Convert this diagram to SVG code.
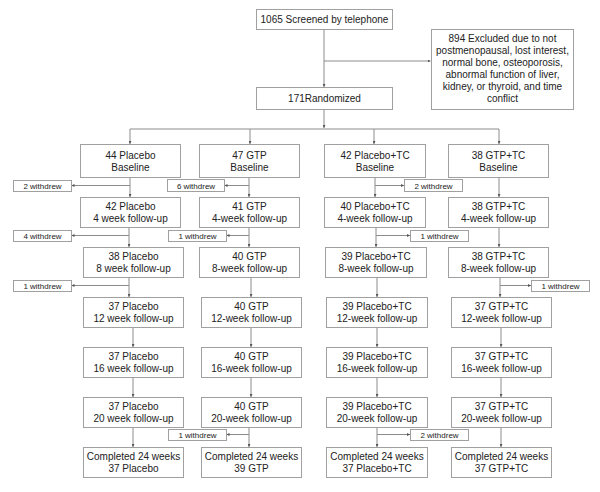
<svg xmlns="http://www.w3.org/2000/svg" width="600" height="492" viewBox="0 0 600 492">
<defs>
<style>
.bx{fill:#fff;stroke:#a0a0a0;stroke-width:1}
.t{font-family:"Liberation Sans",Arial,sans-serif;font-size:10px;fill:#222;text-anchor:middle}
.w{font-family:"Liberation Sans",Arial,sans-serif;font-size:8px;fill:#222;text-anchor:middle}
.ln{fill:none;stroke:#8c8c8c;stroke-width:1}
</style>
<marker id="ah" viewBox="0 0 4 4" refX="4" refY="2" markerWidth="3" markerHeight="3" orient="auto" markerUnits="userSpaceOnUse">
<path d="M0,0 L4,2 L0,4 z" fill="#555"/>
</marker>
</defs>
<rect width="600" height="492" fill="#fff"/>

<g id="connectors">
<path class="ln" d="M324,29.5 V87" marker-end="url(#ah)"/>
<path class="ln" d="M324,61 H430.5" marker-end="url(#ah)"/>
<path class="ln" d="M324,109.5 V128" marker-end="url(#ah)"/>
<path class="ln" d="M130,129 H499"/>
<path class="ln" d="M130,129 V144" marker-end="url(#ah)"/>
<path class="ln" d="M250,129 V144" marker-end="url(#ah)"/>
<path class="ln" d="M374,129 V144" marker-end="url(#ah)"/>
<path class="ln" d="M499,129 V144" marker-end="url(#ah)"/>
<!-- Placebo -->
<path class="ln" d="M130,177.5 V197" marker-end="url(#ah)"/>
<path class="ln" d="M130,185.5 H71.5" marker-end="url(#ah)"/>
<path class="ln" d="M129,227.5 V247" marker-end="url(#ah)"/>
<path class="ln" d="M129,235.5 H71.5" marker-end="url(#ah)"/>
<path class="ln" d="M129,277.5 V297" marker-end="url(#ah)"/>
<path class="ln" d="M129,285.5 H71.5" marker-end="url(#ah)"/>
<path class="ln" d="M133,327.5 V347" marker-end="url(#ah)"/>
<path class="ln" d="M133,377.5 V397" marker-end="url(#ah)"/>
<path class="ln" d="M133,427.5 V447" marker-end="url(#ah)"/>
<!-- GTP -->
<path class="ln" d="M249,177.5 V197" marker-end="url(#ah)"/>
<path class="ln" d="M249,185.5 H224.5" marker-end="url(#ah)"/>
<path class="ln" d="M249,227.5 V247" marker-end="url(#ah)"/>
<path class="ln" d="M249,235.5 H226.5" marker-end="url(#ah)"/>
<path class="ln" d="M251,277.5 V297" marker-end="url(#ah)"/>
<path class="ln" d="M251,327.5 V347" marker-end="url(#ah)"/>
<path class="ln" d="M251,377.5 V397" marker-end="url(#ah)"/>
<path class="ln" d="M249,427.5 V447" marker-end="url(#ah)"/>
<path class="ln" d="M249,434.5 H226.5" marker-end="url(#ah)"/>
<!-- Placebo+TC -->
<path class="ln" d="M375,177.5 V197" marker-end="url(#ah)"/>
<path class="ln" d="M375,185.5 H404" marker-end="url(#ah)"/>
<path class="ln" d="M376,227.5 V247" marker-end="url(#ah)"/>
<path class="ln" d="M376,235.5 H410" marker-end="url(#ah)"/>
<path class="ln" d="M377,277.5 V297" marker-end="url(#ah)"/>
<path class="ln" d="M377,327.5 V347" marker-end="url(#ah)"/>
<path class="ln" d="M377,377.5 V397" marker-end="url(#ah)"/>
<path class="ln" d="M377,427.5 V447" marker-end="url(#ah)"/>
<path class="ln" d="M377,434.5 H410" marker-end="url(#ah)"/>
<!-- GTP+TC -->
<path class="ln" d="M499,177.5 V197" marker-end="url(#ah)"/>
<path class="ln" d="M499,227.5 V247" marker-end="url(#ah)"/>
<path class="ln" d="M500,277.5 V297" marker-end="url(#ah)"/>
<path class="ln" d="M500,285.5 H531" marker-end="url(#ah)"/>
<path class="ln" d="M501,327.5 V347" marker-end="url(#ah)"/>
<path class="ln" d="M501,377.5 V397" marker-end="url(#ah)"/>
<path class="ln" d="M501,427.5 V447" marker-end="url(#ah)"/>
</g>

<g id="screened"><rect class="bx" x="256.5" y="9.5" width="136" height="20"/><text class="t" x="324.5" y="23">1065 Screened by telephone</text></g>
<g id="excluded"><rect class="bx" x="431.5" y="29.5" width="142" height="80"/>
<text class="t" x="502.5" y="42">894 Excluded due to not</text>
<text class="t" x="502.5" y="54">postmenopausal, lost interest,</text>
<text class="t" x="502.5" y="66">normal bone, osteoporosis,</text>
<text class="t" x="502.5" y="78">abnormal function of liver,</text>
<text class="t" x="502.5" y="90">kidney, or thyroid, and time</text>
<text class="t" x="502.5" y="102">conflict</text></g>
<g id="randomized"><rect class="bx" x="256.5" y="87.5" width="136" height="22"/><text class="t" x="324.5" y="102">171Randomized</text></g>

<!-- Placebo column -->
<g id="p0"><rect class="bx" x="80.5" y="144.5" width="100" height="33"/><text class="t" x="130.5" y="159">44 Placebo</text><text class="t" x="130.5" y="171">Baseline</text></g>
<g id="p4"><rect class="bx" x="80.5" y="197.5" width="100" height="30"/><text class="t" x="130.5" y="210">42 Placebo</text><text class="t" x="130.5" y="222">4 week follow-up</text></g>
<g id="p8"><rect class="bx" x="83.5" y="247.5" width="100" height="30"/><text class="t" x="133.5" y="260">38 Placebo</text><text class="t" x="133.5" y="272">8 week follow-up</text></g>
<g id="p12"><rect class="bx" x="83.5" y="297.5" width="100" height="30"/><text class="t" x="133.5" y="310">37 Placebo</text><text class="t" x="133.5" y="322">12 week follow-up</text></g>
<g id="p16"><rect class="bx" x="83.5" y="347.5" width="100" height="30"/><text class="t" x="133.5" y="360">37 Placebo</text><text class="t" x="133.5" y="372">16 week follow-up</text></g>
<g id="p20"><rect class="bx" x="83.5" y="397.5" width="100" height="30"/><text class="t" x="133.5" y="410">37 Placebo</text><text class="t" x="133.5" y="422">20 week follow-up</text></g>
<g id="pc"><rect class="bx" x="83.5" y="447.5" width="100" height="30"/><text class="t" x="133.5" y="460">Completed 24 weeks</text><text class="t" x="133.5" y="472">37 Placebo</text></g>

<!-- GTP column -->
<g id="g0"><rect class="bx" x="199.5" y="144.5" width="100" height="33"/><text class="t" x="249.5" y="159">47 GTP</text><text class="t" x="249.5" y="171">Baseline</text></g>
<g id="g4"><rect class="bx" x="199.5" y="197.5" width="100" height="30"/><text class="t" x="249.5" y="210">41 GTP</text><text class="t" x="249.5" y="222">4-week follow-up</text></g>
<g id="g8"><rect class="bx" x="199.5" y="247.5" width="100" height="30"/><text class="t" x="249.5" y="260">40 GTP</text><text class="t" x="249.5" y="272">8-week follow-up</text></g>
<g id="g12"><rect class="bx" x="201.5" y="297.5" width="100" height="30"/><text class="t" x="251.5" y="310">40 GTP</text><text class="t" x="251.5" y="322">12-week follow-up</text></g>
<g id="g16"><rect class="bx" x="201.5" y="347.5" width="100" height="30"/><text class="t" x="251.5" y="360">40 GTP</text><text class="t" x="251.5" y="372">16-week follow-up</text></g>
<g id="g20"><rect class="bx" x="201.5" y="397.5" width="100" height="30"/><text class="t" x="251.5" y="410">40 GTP</text><text class="t" x="251.5" y="422">20-week follow-up</text></g>
<g id="gc"><rect class="bx" x="201.5" y="447.5" width="100" height="30"/><text class="t" x="251.5" y="460">Completed 24 weeks</text><text class="t" x="251.5" y="472">39 GTP</text></g>

<!-- Placebo+TC column -->
<g id="pt0"><rect class="bx" x="324.5" y="144.5" width="101" height="33"/><text class="t" x="375" y="159">42 Placebo+TC</text><text class="t" x="375" y="171">Baseline</text></g>
<g id="pt4"><rect class="bx" x="324.5" y="197.5" width="101" height="30"/><text class="t" x="375" y="210">40 Placebo+TC</text><text class="t" x="375" y="222">4-week follow-up</text></g>
<g id="pt8"><rect class="bx" x="325.5" y="247.5" width="101" height="30"/><text class="t" x="376" y="260">39 Placebo+TC</text><text class="t" x="376" y="272">8-week follow-up</text></g>
<g id="pt12"><rect class="bx" x="326.5" y="297.5" width="101" height="30"/><text class="t" x="377" y="310">39 Placebo+TC</text><text class="t" x="377" y="322">12-week follow-up</text></g>
<g id="pt16"><rect class="bx" x="326.5" y="347.5" width="101" height="30"/><text class="t" x="377" y="360">39 Placebo+TC</text><text class="t" x="377" y="372">16-week follow-up</text></g>
<g id="pt20"><rect class="bx" x="326.5" y="397.5" width="101" height="30"/><text class="t" x="377" y="410">39 Placebo+TC</text><text class="t" x="377" y="422">20-week follow-up</text></g>
<g id="ptc"><rect class="bx" x="326.5" y="447.5" width="101" height="30"/><text class="t" x="377" y="460">Completed 24 weeks</text><text class="t" x="377" y="472">37 Placebo+TC</text></g>

<!-- GTP+TC column -->
<g id="gt0"><rect class="bx" x="448.5" y="144.5" width="100" height="33"/><text class="t" x="498.5" y="159">38 GTP+TC</text><text class="t" x="498.5" y="171">Baseline</text></g>
<g id="gt4"><rect class="bx" x="448.5" y="197.5" width="100" height="30"/><text class="t" x="498.5" y="210">38 GTP+TC</text><text class="t" x="498.5" y="222">4-week follow-up</text></g>
<g id="gt8"><rect class="bx" x="448.5" y="247.5" width="100" height="30"/><text class="t" x="498.5" y="260">38 GTP+TC</text><text class="t" x="498.5" y="272">8-week follow-up</text></g>
<g id="gt12"><rect class="bx" x="451.5" y="297.5" width="100" height="30"/><text class="t" x="501.5" y="310">37 GTP+TC</text><text class="t" x="501.5" y="322">12-week follow-up</text></g>
<g id="gt16"><rect class="bx" x="451.5" y="347.5" width="100" height="30"/><text class="t" x="501.5" y="360">37 GTP+TC</text><text class="t" x="501.5" y="372">16-week follow-up</text></g>
<g id="gt20"><rect class="bx" x="451.5" y="397.5" width="100" height="30"/><text class="t" x="501.5" y="410">37 GTP+TC</text><text class="t" x="501.5" y="422">20-week follow-up</text></g>
<g id="gtc"><rect class="bx" x="451.5" y="447.5" width="100" height="30"/><text class="t" x="501.5" y="460">Completed 24 weeks</text><text class="t" x="501.5" y="472">37 GTP+TC</text></g>

<!-- withdrew boxes -->
<g id="w1"><rect class="bx" x="13.5" y="180.5" width="58" height="11"/><text class="w" x="42.5" y="189">2 withdrew</text></g>
<g id="w2"><rect class="bx" x="13.5" y="230.5" width="58" height="11"/><text class="w" x="42.5" y="239">4 withdrew</text></g>
<g id="w3"><rect class="bx" x="13.5" y="280.5" width="58" height="11"/><text class="w" x="42.5" y="289">1 withdrew</text></g>
<g id="w4"><rect class="bx" x="167.5" y="179.5" width="57" height="12"/><text class="w" x="196" y="188.5">6 withdrew</text></g>
<g id="w5"><rect class="bx" x="168.5" y="230.5" width="58" height="11"/><text class="w" x="197.5" y="239">1 withdrew</text></g>
<g id="w6"><rect class="bx" x="168.5" y="429.5" width="58" height="11"/><text class="w" x="197.5" y="438">1 withdrew</text></g>
<g id="w7"><rect class="bx" x="404.5" y="179.5" width="58" height="12"/><text class="w" x="433.5" y="188.5">2 withdrew</text></g>
<g id="w8"><rect class="bx" x="410.5" y="230.5" width="58" height="11"/><text class="w" x="439.5" y="239">1 withdrew</text></g>
<g id="w9"><rect class="bx" x="410.5" y="429.5" width="58" height="11"/><text class="w" x="439.5" y="438">2 withdrew</text></g>
<g id="w10"><rect class="bx" x="531.5" y="280.5" width="58" height="11"/><text class="w" x="560.5" y="289">1 withdrew</text></g>
</svg>
